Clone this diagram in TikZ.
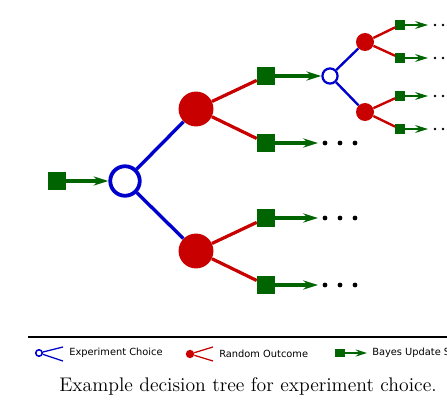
\documentclass[tikz,border=0pt]{standalone}
\usepackage{fontspec}
\newfontfamily\legendfont{DejaVu Sans}
\usetikzlibrary{arrows.meta}
\definecolor{choiceblue}{RGB}{0,0,204}
\definecolor{outcomered}{RGB}{200,0,0}
\definecolor{updategreen}{RGB}{0,100,0}

\begin{document}
\begin{tikzpicture}[x=0.025cm, y=-0.025cm,
  choice/.style={circle, draw=choiceblue, fill=white, line width=2.7pt, inner sep=0pt, minimum size=21pt},
  smallchoice/.style={circle, draw=choiceblue, fill=white, line width=1.6pt, inner sep=0pt, minimum size=10.8pt},
  outcome/.style={circle, fill=outcomered, inner sep=0pt, minimum size=24.8pt},
  smalloutcome/.style={circle, fill=outcomered, inner sep=0pt, minimum size=12.8pt},
  update/.style={fill=updategreen, inner sep=0pt, minimum size=12.8pt},
  smallupdate/.style={fill=updategreen, inner sep=0pt, minimum size=6.6pt},
  blueline/.style={draw=choiceblue, line width=2.4pt},
  redline/.style={draw=outcomered, line width=2.3pt},
  greenarrow/.style={draw=updategreen, line width=2.2pt, -{Stealth[length=10.5pt, width=6.5pt]}},
  smallblue/.style={draw=choiceblue, line width=1.7pt},
  smallred/.style={draw=outcomered, line width=1.7pt},
  smallgreen/.style={draw=updategreen, line width=1.8pt, -{Stealth[length=9pt, width=5.5pt]}},
  legtext/.style={font=\legendfont\fontsize{7}{8}\selectfont, anchor=west, inner sep=0pt}]
\clip (0,0) rectangle (447,400);

% first experiment
\node[update] (s0) at (57,181) {};
\node[choice] (c1) at (125,181) {};
\node[outcome] (r1) at (196,109) {};
\node[outcome] (r2) at (196,251) {};
\node[update] (s1) at (266,76) {};
\node[update] (s2) at (266,143) {};
\node[update] (s3) at (266,218) {};
\node[update] (s4) at (266,285) {};
\draw[greenarrow] (s0) -- (c1);
\draw[blueline] (c1) -- (r1);
\draw[blueline] (c1) -- (r2);
\draw[redline] (r1) -- (s1);
\draw[redline] (r1) -- (s2);
\draw[redline] (r2) -- (s3);
\draw[redline] (r2) -- (s4);
\coordinate (e2) at (318,143);
\coordinate (e3) at (318,218);
\coordinate (e4) at (318,285);
\draw[greenarrow] (s2) -- (e2);
\draw[greenarrow] (s3) -- (e3);
\draw[greenarrow] (s4) -- (e4);
\foreach \y in {143,218,285}
  \foreach \x in {325,340,355}
    \fill (\x,\y) circle (1.7pt);

% second experiment
\node[smallchoice] (c2) at (330,76) {};
\draw[greenarrow] (s1) -- (c2);
\node[smalloutcome] (r3) at (365,42) {};
\node[smalloutcome] (r4) at (365,112) {};
\node[smallupdate] (s5) at (400,25) {};
\node[smallupdate] (s6) at (400,58) {};
\node[smallupdate] (s7) at (400,96) {};
\node[smallupdate] (s8) at (400,129) {};
\draw[smallblue] (c2) -- (r3);
\draw[smallblue] (c2) -- (r4);
\draw[smallred] (r3) -- (s5);
\draw[smallred] (r3) -- (s6);
\draw[smallred] (r4) -- (s7);
\draw[smallred] (r4) -- (s8);
\foreach \n/\y in {5/25,6/58,7/96,8/129} {
  \coordinate (e\n) at (428,\y);
  \draw[smallgreen] (s\n) -- (e\n);
  \foreach \x in {435,443,451}
    \fill (\x,\y) circle (0.9pt);
}

% legend
\draw[line width=0.9pt] (28,337) -- (447,337);
\node[circle, draw=choiceblue, fill=white, line width=1.1pt, inner sep=0pt, minimum size=4.6pt] (lc) at (39,353) {};
\coordinate (lc1) at (63,347);
\coordinate (lc2) at (63,361);
\draw[draw=choiceblue, line width=0.9pt] (lc) -- (lc1);
\draw[draw=choiceblue, line width=0.9pt] (lc) -- (lc2);
\node[legtext] (lt1) at (69,353) {Experiment Choice};
\node[circle, fill=outcomered, inner sep=0pt, minimum size=6pt] (lr) at (190,354) {};
\coordinate (lr1) at (213,347);
\coordinate (lr2) at (213,361);
\draw[draw=outcomered, line width=0.9pt] (lr) -- (lr1);
\draw[draw=outcomered, line width=0.9pt] (lr) -- (lr2);
\node[legtext] (lt2) at (219,354) {Random Outcome};
\node[fill=updategreen, inner sep=0pt, minimum width=7pt, minimum height=5.4pt] (lu) at (340,353) {};
\coordinate (lu1) at (367,353);
\draw[draw=updategreen, line width=1.8pt, -{Stealth[length=8pt, width=5pt]}] (lu) -- (lu1);
\node[legtext] (lt3) at (372,353) {Bayes Update Step};

% caption
\node[font=\fontsize{14}{17}\selectfont, inner sep=0pt] (cap) at (248,386) {Example decision tree for experiment choice.};
\end{tikzpicture}
\end{document}
